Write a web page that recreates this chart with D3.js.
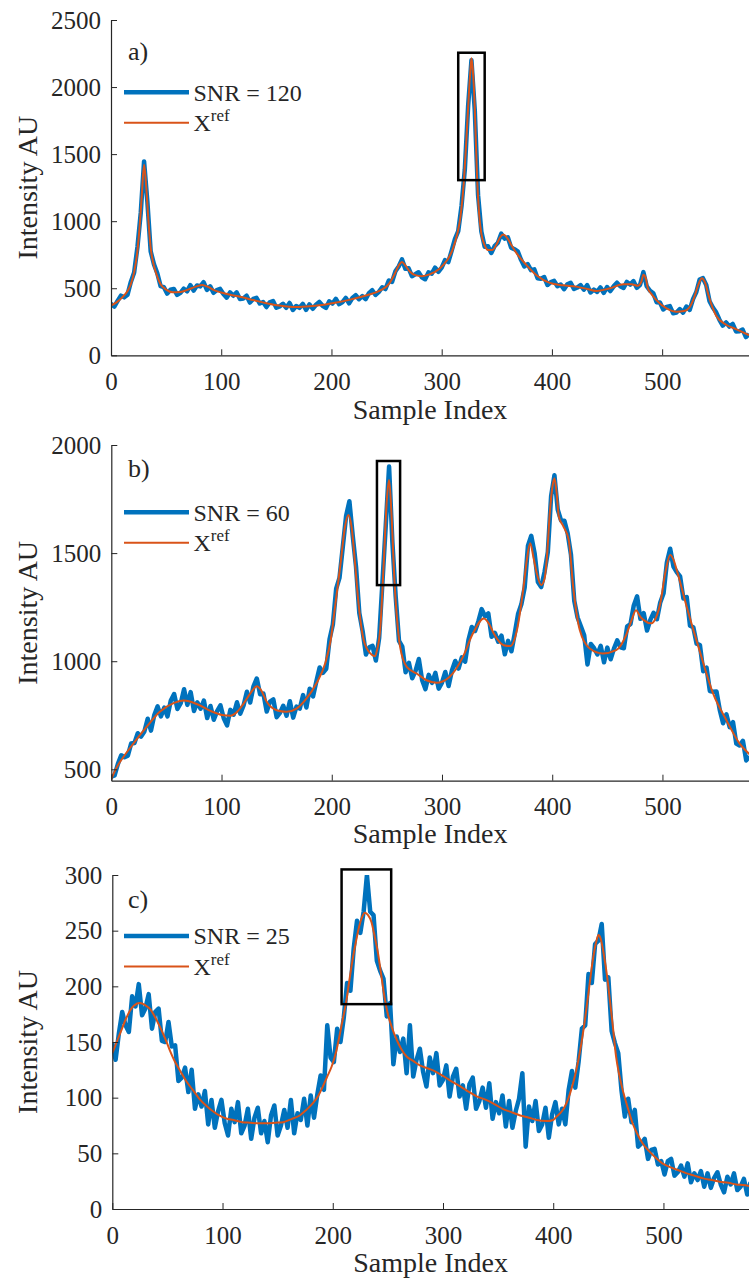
<!DOCTYPE html>
<html>
<head>
<meta charset="utf-8">
<script src="https://cdn.jsdelivr.net/npm/d3@7"></script>
<style>
  body { margin: 0; background: #fff; }
  svg { display: block; }
</style>
</head>
<body>
<div id="chart"></div>
<script>
// ---- data ----
const xTicks = [0, 100, 200, 300, 400, 500];
const yTicksA = [0, 500, 1000, 1500, 2000, 2500];
const yTicksB = [500, 1000, 1500, 2000];
const yTicksC = [0, 50, 100, 150, 200, 250, 300];

const snrStep = 3; // noisy traces were read every 3 samples
const nSamples = 580;

// panel a) reference spectrum (sample index / intensity)
const refIdxA = [0,5,10,15,18,21,24,26,28,30,32,34,36,38,41,45,50,56,63,70,77,83,88,93,100,108,117,129,141,156,165,177,189,202,217,232,244,252,257,261,264,267,271,276,282,289,298,305,310,314,317,320,322,324,326,327,328,330,332,334,336,339,342,346,350,353,356,359,363,368,377,386,398,410,422,432,440,452,465,472,478,481,483,485,487,490,495,504,513,520,525,529,533,536,539,542,546,549,558,567,579];
const refA = [370,395,430,480,530,620,780,960,1200,1420,1250,1000,800,700,610,530,490,470,472,490,512,525,510,488,468,452,436,412,388,367,360,364,373,390,415,448,482,530,600,670,695,670,625,598,590,603,645,710,790,900,1030,1280,1550,1850,2120,2215,2150,1850,1350,1050,905,820,785,785,830,880,900,880,825,760,672,597,540,522,512,495,480,498,530,530,518,545,600,580,500,460,410,350,325,330,360,430,530,575,540,450,350,295,228,195,150];
// panel a) SNR = 120 trace
const snrA = [
  384,363,406,445,432,452,547,617,808,1063,
  1445,1145,775,678,612,516,508,460,489,495,
  451,466,497,477,523,483,521,514,545,488,
  514,466,486,495,457,430,469,444,469,419,
  424,444,393,420,428,386,397,360,395,405,
  355,365,384,354,390,338,367,354,383,339,
  380,347,377,398,369,353,402,386,421,381,
  397,428,388,427,448,418,442,418,463,485,
  450,473,507,494,558,548,626,662,715,645,
  649,590,604,619,582,567,618,609,653,623,
  654,710,695,778,867,926,1113,1387,1861,2200,
  1830,1194,922,809,813,763,814,839,907,870,
  880,803,791,775,712,662,680,635,641,575,
  571,583,524,546,555,515,528,493,530,541,
  494,505,523,489,523,468,490,473,506,465,
  509,479,514,541,515,502,547,527,553,503,
  526,620,515,481,462,396,393,342,361,367,
  313,319,344,318,364,338,419,472,565,575,
  524,403,356,320,265,222,245,214,234,178,
  179,192,136,158
];

// panel b)
const refIdxB = [0,5,11,20,32,44,57,66,78,90,102,108,114,120,126,132,136,141,150,159,168,177,186,194,199,203,208,212,215,218,221,224,229,235,239,241,244,247,250,252,254,257,260,262,268,277,286,295,307,319,328,338,343,347,356,362,368,374,377,380,383,386,390,393,395,398,400,402,404,406,410,415,419,425,434,446,458,467,472,476,480,483,490,494,498,503,507,510,513,522,534,546,558,570,579];
const refB = [455,510,557,619,696,766,807,818,801,770,750,748,765,804,850,884,865,812,773,766,781,827,897,989,1097,1252,1452,1622,1676,1620,1460,1282,1097,1036,1023,1050,1150,1437,1750,1838,1700,1360,1150,1066,974,943,912,900,928,1020,1128,1198,1170,1128,1074,1070,1144,1344,1470,1545,1480,1406,1352,1380,1468,1699,1800,1846,1780,1668,1625,1560,1344,1144,1059,1036,1051,1120,1190,1236,1205,1190,1175,1200,1267,1420,1491,1470,1421,1252,1043,850,727,619,570];
const snrB = [
  466,472,525,565,556,563,619,622,667,651,
  675,734,679,751,791,745,785,745,818,848,
  779,806,870,798,857,770,810,780,818,737,
  793,729,769,796,736,703,775,753,810,757,
  795,859,809,884,920,847,850,767,813,823,
  741,761,794,748,815,739,790,781,843,786,
  873,837,906,971,946,965,1102,1170,1335,1385,
  1528,1672,1740,1581,1437,1222,1139,1031,1064,1071,
  1003,1108,1367,1628,1900,1551,1299,1094,1067,949,
  992,921,955,1010,912,871,937,900,946,873,
  901,950,885,957,1001,966,1018,998,1098,1158,
  1140,1184,1241,1208,1221,1113,1131,1090,1118,1032,
  1094,1046,1128,1218,1263,1341,1534,1580,1500,1366,
  1343,1412,1504,1764,1860,1701,1651,1650,1591,1493,
  1279,1202,1162,1120,985,1080,1060,1031,1071,995,
  1063,1009,1058,1096,1064,1060,1161,1171,1258,1300,
  1196,1222,1142,1191,1224,1194,1272,1314,1456,1520,
  1438,1412,1392,1290,1297,1164,1157,1081,1075,954,
  970,862,859,860,775,713,754,695,718,619,
  610,632,541,560
];

// panel c)
const refIdxC = [0,4,8,12,16,20,25,30,34,39,43,48,52,57,61,67,73,79,85,91,97,104,110,118,125,133,140,148,155,163,170,176,182,187,191,195,199,203,206,209,212,215,218,221,224,227,229,232,235,238,241,244,247,250,254,258,262,267,273,279,287,294,301,309,316,324,331,339,347,354,362,370,378,385,394,400,403,408,412,415,418,421,424,427,430,433,436,439,441,443,446,449,451,454,457,460,463,467,472,476,481,487,493,499,505,513,521,528,536,544,551,559,566,572,579];
const refC = [140,150,160,170,178,183,185,183,180,172,164,153,143,132,125,115,107,99,93,88,84,81,80,78,77.5,77,77,77.5,78,81,84,89,95,102,110,119,128,141,155,170,185,205,224,240,254,263,266,264,258,245,230,210,190,175,162,152,144,137,133,129,126,123,119,114,110,105,101,98,94,90,87,84,82,80,79,80,83,88,95,103,113,125,140,158,179,202,224,240,246,243,228,208,191,165,137,120,107,93,77,68,59,52,46,41,38,35,32,30,27.5,26,24.5,23.5,22,21.5,20.5];
const snrC = [
  149,134,158,177,165,159,191,182,202,174,
  180,193,162,177,180,151,150,168,146,147,
  115,118,127,105,125,90,103,92,106,76,
  98,73,88,98,77,66,90,78,96,68,
  75,90,63,82,91,68,79,60,84,93,
  66,75,89,73,98,68,86,80,99,75,
  102,82,103,120,107,165,136,132,162,150,
  172,203,196,234,259,248,267,300,267,264,
  223,214,207,173,185,130,155,141,153,122,
  165,119,134,144,123,110,136,122,140,111,
  116,129,101,119,126,101,111,90,112,118,
  90,97,109,91,113,81,96,86,102,74,
  97,73,88,99,122,56,92,79,97,70,
  76,91,64,85,96,76,90,76,107,124,
  109,132,162,165,211,203,238,241,256,206,
  208,160,149,140,106,83,99,78,89,56,
  59,63,45,53,54,40,43,31,43,45,
  30,33,39,29,41,24,32,26,34,20,
  32,19,28,33,22,15,29,22,32,17,
  20,27,13,24
];

// zoom boxes [x0, x1, y0, y1] in data units
const boxA = [315, 339, 1306, 2256];
const boxB = [241, 262, 1352, 1926];
const boxC = [208, 253, 184, 305];

const panelLabels = ["a)", "b)", "c)"];
const snrLabels = ["SNR = 120", "SNR = 60", "SNR = 25"];

// ---- layout ----
const W = 749, H = 1284;
const blue = "#0072BD", orange = "#D95319", axisCol = "#262626";
const serif = "'Liberation Serif', 'Times New Roman', Tinos, 'DejaVu Serif', serif";

const panels = [
  { lab: panelLabels[0], snr: snrLabels[0], refIdx: refIdxA, ref: refA, noisy: snrA, yDom: [0, 2500], yTicks: yTicksA,
    box: boxA, left: 111, top: 20, bottom: 355.3, labY: 60, legY: 92.3, xTitleY: 419 },
  { lab: panelLabels[1], snr: snrLabels[1], refIdx: refIdxB, ref: refB, noisy: snrB, yDom: [447.3, 2000], yTicks: yTicksB,
    box: boxB, left: 111.3, top: 445, bottom: 780.7, labY: 477, legY: 512.3, xTitleY: 843 },
  { lab: panelLabels[2], snr: snrLabels[2], refIdx: refIdxC, ref: refC, noisy: snrC, yDom: [0, 300], yTicks: yTicksC,
    box: boxC, left: 112.3, top: 875, bottom: 1209, labY: 908, legY: 936, xTitleY: 1272 }
];

const svg = d3.select("#chart").append("svg")
  .attr("width", W)
  .attr("height", H)
  .attr("viewBox", `0 0 ${W} ${H}`)
  .attr("font-family", serif);

svg.append("rect").attr("width", W).attr("height", H).attr("fill", "#fff");

function addText(sel) {
  return sel.append("text").attr("font-family", serif).attr("fill", axisCol);
}

panels.forEach(function (p, k) {
  const x = d3.scaleLinear().domain([0, nSamples - 1]).range([p.left, p.left + 579 * 1.1023]);
  const y = d3.scaleLinear().domain(p.yDom).range([p.bottom, p.top]);

  const clipId = "clip" + k;
  svg.append("clipPath").attr("id", clipId)
    .append("rect")
    .attr("x", p.left).attr("y", p.top)
    .attr("width", W - p.left).attr("height", p.bottom - p.top);

  const g = svg.append("g");
  const plot = g.append("g").attr("clip-path", `url(#${clipId})`);

  const noisyPts = p.noisy.map((v, i) => [i * snrStep, v]);
  const refPts = p.refIdx.map((v, i) => [v, p.ref[i]]);

  plot.append("path")
    .datum(noisyPts)
    .attr("fill", "none")
    .attr("stroke", blue)
    .attr("stroke-width", 4.5)
    .attr("stroke-linejoin", "round")
    .attr("d", d3.line().x(d => x(d[0])).y(d => y(d[1])));

  plot.append("path")
    .datum(refPts)
    .attr("fill", "none")
    .attr("stroke", orange)
    .attr("stroke-width", 2)
    .attr("d", d3.line().curve(d3.curveMonotoneX).x(d => x(d[0])).y(d => y(d[1])));

  // zoom box
  g.append("rect")
    .attr("x", x(p.box[0]))
    .attr("y", y(p.box[3]))
    .attr("width", x(p.box[1]) - x(p.box[0]))
    .attr("height", y(p.box[2]) - y(p.box[3]))
    .attr("fill", "none")
    .attr("stroke", "#000")
    .attr("stroke-width", 2.5);

  // axes
  const xAxis = d3.axisBottom(x).tickValues(xTicks).tickFormat(d3.format("d"))
    .tickSizeInner(-6).tickSizeOuter(0).tickPadding(17);
  const yAxis = d3.axisLeft(y).tickValues(p.yTicks).tickFormat(d3.format("d"))
    .tickSizeInner(-6).tickSizeOuter(0).tickPadding(10);

  const gx = g.append("g")
    .attr("transform", `translate(0,${p.bottom})`)
    .call(xAxis);
  const gy = g.append("g")
    .attr("transform", `translate(${p.left},0)`)
    .call(yAxis);

  [gx, gy].forEach(function (ax) {
    ax.attr("font-family", serif).attr("font-size", 25);
    ax.select(".domain").attr("stroke", axisCol).attr("stroke-width", 1.2);
    ax.selectAll(".tick line").attr("stroke", axisCol).attr("stroke-width", 1);
    ax.selectAll(".tick text").attr("fill", axisCol).attr("font-family", serif).attr("font-size", 25);
  });

  // axis titles
  addText(g)
    .attr("x", (p.left + W) / 2)
    .attr("y", p.xTitleY)
    .attr("text-anchor", "middle")
    .attr("font-size", 28)
    .text("Sample Index");

  addText(g)
    .attr("transform", `translate(37,${(p.top + p.bottom) / 2}) rotate(-90)`)
    .attr("text-anchor", "middle")
    .attr("font-size", 28)
    .text("Intensity AU");

  // panel letter
  addText(g)
    .attr("x", 128)
    .attr("y", p.labY)
    .attr("font-size", 26)
    .text(p.lab);

  // legend
  const lg = g.append("g");
  lg.append("line")
    .attr("x1", 124).attr("x2", 189)
    .attr("y1", p.legY).attr("y2", p.legY)
    .attr("stroke", blue).attr("stroke-width", 4.5);
  addText(lg)
    .attr("x", 193.5).attr("y", p.legY + 8.4)
    .attr("font-size", 24)
    .text(p.snr);
  lg.append("line")
    .attr("x1", 124).attr("x2", 189)
    .attr("y1", p.legY + 30.4).attr("y2", p.legY + 30.4)
    .attr("stroke", orange).attr("stroke-width", 2);
  const xr = addText(lg)
    .attr("x", 193.5).attr("y", p.legY + 38.8)
    .attr("font-size", 24);
  xr.append("tspan").text("X");
  xr.append("tspan").attr("dy", -10).attr("font-size", 17).text("ref");
});
</script>
</body>
</html>
